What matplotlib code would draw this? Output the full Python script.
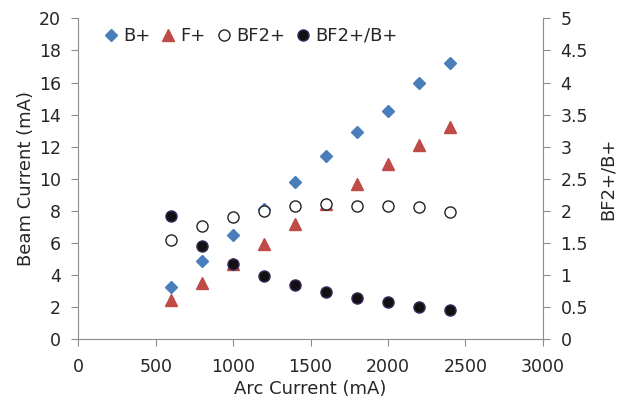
import matplotlib
matplotlib.use("Agg")
import matplotlib.pyplot as plt

arc_current = [600, 800, 1000, 1200, 1400, 1600, 1800, 2000, 2200, 2400]
b_plus = [3.24, 4.88, 6.5, 8.12, 9.83, 11.42, 12.9, 14.22, 15.97, 17.21]
f_plus = [2.43, 3.51, 4.7, 5.92, 7.2, 8.41, 9.7, 10.95, 12.09, 13.23]
bf2_plus = [6.17, 7.08, 7.62, 8.0, 8.29, 8.41, 8.31, 8.29, 8.25, 7.96]
ratio = [1.92, 1.46, 1.18, 0.98, 0.84, 0.74, 0.65, 0.58, 0.51, 0.46]

left_ticks = list(range(0, 21, 2))
right_ticks = [0, 0.5, 1, 1.5, 2, 2.5, 3, 3.5, 4, 4.5, 5]
right_labels = ["0", "0.5", "1", "1.5", "2", "2.5", "3", "3.5", "4", "4.5", "5"]
x_ticks = [0, 500, 1000, 1500, 2000, 2500, 3000]

plt.rcParams['font.family'] = ['DejaVu Sans']
fig = plt.figure(figsize=(6.30, 4.03), dpi=100)
ax = fig.add_axes([78.3/630, 1-339.3/403, (542.7-78.3)/630, (339.3-18.3)/403])
ax2 = ax.twinx()

grey = '#8c8c8c'
txt = '#262626'

h1, = ax.plot(arc_current, b_plus, linestyle='none', marker='D', markersize=6.5,
              color='#4A7EBB', label='B+')
h2, = ax.plot(arc_current, f_plus, linestyle='none', marker='^', markersize=8,
              color='#BE4B48', label='F+')
h3, = ax.plot(arc_current, bf2_plus, linestyle='none', marker='o', markersize=8,
              markerfacecolor='white', markeredgecolor='#222222', markeredgewidth=1.0,
              label='BF2+')
h4, = ax2.plot(arc_current, ratio, linestyle='none', marker='o', markersize=8,
               markerfacecolor='#111111', markeredgecolor='#3b2a5a', markeredgewidth=1.0,
               label='BF2+/B+')

ax.set_xlim(0, 3000)
ax.set_ylim(0, 20)
ax2.set_ylim(0, 5)
ax.set_xticks(x_ticks)
ax.set_yticks(left_ticks)
ax2.set_yticks(right_ticks)
ax2.set_yticklabels(right_labels)

for a in (ax, ax2):
    for s in a.spines.values():
        s.set_visible(False)
    a.tick_params(colors=grey, labelcolor=txt, labelsize=12.5, length=4.8, width=0.8,
                  direction='out')
ax.spines['left'].set_visible(True)
ax.spines['bottom'].set_visible(True)
ax2.spines['right'].set_visible(True)
for s in (ax.spines['left'], ax.spines['bottom'], ax2.spines['right']):
    s.set_color(grey)
    s.set_linewidth(0.8)
ax.tick_params(axis='x', pad=8.5)
ax.tick_params(axis='y', pad=7.5)
ax2.tick_params(axis='y', pad=8)

ax.set_xlabel('Arc Current (mA)', fontsize=13, color=txt, labelpad=3)
ax.set_ylabel('Beam Current (mA)', fontsize=13, color=txt, labelpad=3)
ax2.set_ylabel('BF2+/B+', fontsize=13, color=txt, labelpad=8)

leg = fig.legend(handles=[h1, h2, h3, h4], loc='center left', ncol=4, frameon=False,
                 fontsize=13, handlelength=0.5, handletextpad=0.42, columnspacing=0.75,
                 bbox_to_anchor=(106.5/630, 1-36/403), markerscale=1.0,
                 borderaxespad=0, borderpad=0)
for t in leg.get_texts():
    t.set_color(txt)

fig.savefig('out.png', dpi=100)
